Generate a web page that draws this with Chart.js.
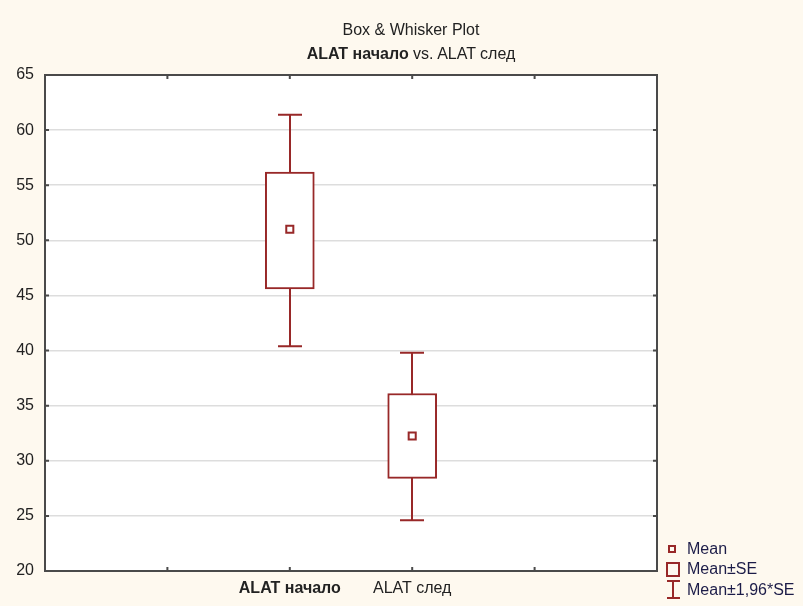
<!DOCTYPE html>
<html>
<head>
<meta charset="utf-8">
<script src="https://cdn.jsdelivr.net/npm/chart.js@4/dist/chart.umd.min.js"></script>
<style>
  body { margin: 0; background: #fef9ef; font-family: "Liberation Sans", Arial, sans-serif; }
  #wrap { position: relative; width: 803px; height: 606px; }
  .t { position: absolute; left: 0; width: 822px; text-align: center; font-size: 16px; line-height: 20px; color: #222; }
  .lg { position: absolute; left: 687px; font-size: 16px; line-height: 20px; color: #1c1c48; white-space: nowrap; }
  .ic { position: absolute; box-sizing: border-box; border: 2px solid #982828; }
  .ln { position: absolute; background: #982828; }
</style>
</head>
<body>
<div id="wrap">
  <canvas id="myChart" width="803" height="606"></canvas>
  <div class="t" style="top:20px">Box &amp; Whisker Plot</div>
  <div class="t" style="top:44px"><b>ALAT начало</b> vs. ALAT след</div>

  <div class="ic" style="left:668px;top:545px;width:8px;height:8px"></div>
  <div class="lg" style="top:539px">Mean</div>
  <div class="ic" style="left:666px;top:562px;width:14px;height:15px"></div>
  <div class="lg" style="top:559px">Mean±SE</div>
  <div class="ln" style="left:672px;top:580px;width:2px;height:19px"></div>
  <div class="ln" style="left:667px;top:580px;width:13px;height:2px"></div>
  <div class="ln" style="left:667px;top:597px;width:13px;height:2px"></div>
  <div class="lg" style="top:580px">Mean±1,96*SE</div>
</div>
<script>
// data
var categories = ['ALAT начало', 'ALAT след'];
var means  = [51.0, 32.25];
var seLow  = [45.6, 28.4];
var seHigh = [56.2, 36.1];
var ciLow  = [40.4, 24.6];
var ciHigh = [61.4, 39.8];
var yMin = 20, yMax = 65, yStep = 5;

// categories sit on slots 2 and 3 of an axis going 0..5
var firstSlot = 2;
var red = '#982828';
var frame = '#4a4a4a';

var boxData = [];
var meanData = [];
for (var i in categories) {
    boxData.push({x: +i + firstSlot, y: [seLow[i], seHigh[i]]});
    meanData.push({x: +i + firstSlot, y: means[i]});
}

var plotBg = {
    id: 'plotBg',
    beforeDraw: function(chart) {
        var a = chart.chartArea, c = chart.ctx;
        c.save();
        c.fillStyle = '#ffffff';
        c.fillRect(a.left, a.top, a.right - a.left, a.bottom - a.top);
        c.restore();
    }
};

var whiskers = {
    id: 'whiskers',
    beforeDatasetsDraw: function(chart) {
        var c = chart.ctx, xs = chart.scales.x, ys = chart.scales.y;
        c.save();
        c.strokeStyle = red;
        c.lineWidth = 2;
        for (var i in categories) {
            var x = Math.round(xs.getPixelForValue(+i + firstSlot));
            var top = ys.getPixelForValue(ciHigh[i]);
            var bot = ys.getPixelForValue(ciLow[i]);
            c.beginPath();
            c.moveTo(x, top); c.lineTo(x, bot);
            c.moveTo(x - 12, top); c.lineTo(x + 12, top);
            c.moveTo(x - 12, bot); c.lineTo(x + 12, bot);
            c.stroke();
        }
        c.restore();
    }
};

var frameTicks = {
    id: 'frameTicks',
    afterDraw: function(chart) {
        var a = chart.chartArea, c = chart.ctx, xs = chart.scales.x, ys = chart.scales.y;
        c.save();
        c.strokeStyle = frame;
        c.lineWidth = 2;
        c.strokeRect(a.left, a.top, a.right - a.left, a.bottom - a.top);
        c.beginPath();
        ys.ticks.forEach(function(t) {
            var y = ys.getPixelForValue(t.value);
            c.moveTo(a.left, y); c.lineTo(a.left + 4, y);
            c.moveTo(a.right, y); c.lineTo(a.right - 4, y);
        });
        xs.ticks.forEach(function(t) {
            var x = xs.getPixelForValue(t.value);
            c.moveTo(x, a.bottom); c.lineTo(x, a.bottom - 4);
            c.moveTo(x, a.top); c.lineTo(x, a.top + 4);
        });
        c.stroke();
        c.restore();
    }
};

var ctx = document.getElementById('myChart');
var chart = new Chart(ctx, {
    type: 'bar',
    data: {
        datasets: [{
            type: 'scatter',
            label: 'Mean',
            data: meanData,
            pointStyle: 'rect',
            radius: 5,
            borderWidth: 2,
            borderColor: red,
            backgroundColor: '#ffffff',
            order: 0
        }, {
            label: 'Mean±SE',
            data: boxData,
            backgroundColor: '#ffffff',
            borderColor: red,
            borderWidth: 2,
            borderSkipped: false,
            barThickness: 49,
            order: 1
        }]
    },
    options: {
        responsive: false,
        animation: false,
        layout: { padding: { top: 75, right: 146, left: 0, bottom: 0 } },
        plugins: {
            legend: { display: false },
            title: { display: false },
            tooltip: { enabled: false }
        },
        scales: {
            x: {
                type: 'linear',
                min: 0,
                max: 5,
                offset: false,
                grid: { display: false, drawTicks: false },
                border: { display: false },
                ticks: {
                    stepSize: 1,
                    autoSkip: false,
                    maxRotation: 0,
                    padding: 8,
                    color: '#222',
                    font: function(c) {
                        var bold = c.tick && c.tick.value === firstSlot;
                        return { family: 'Liberation Sans', size: 16, weight: bold ? 'bold' : 'normal' };
                    },
                    callback: function(v) {
                        return categories[v - firstSlot] || '';
                    }
                },
                afterFit: function(s) { s.height = 35; }
            },
            y: {
                min: yMin,
                max: yMax,
                grid: { color: '#dddddd', lineWidth: 1.5, drawTicks: false },
                border: { display: false },
                ticks: {
                    stepSize: yStep,
                    padding: 11,
                    color: '#222',
                    font: { family: 'Liberation Sans', size: 16 }
                },
                afterFit: function(s) { s.width = 45; }
            }
        }
    },
    plugins: [plotBg, whiskers, frameTicks]
});
</script>
</body>
</html>
